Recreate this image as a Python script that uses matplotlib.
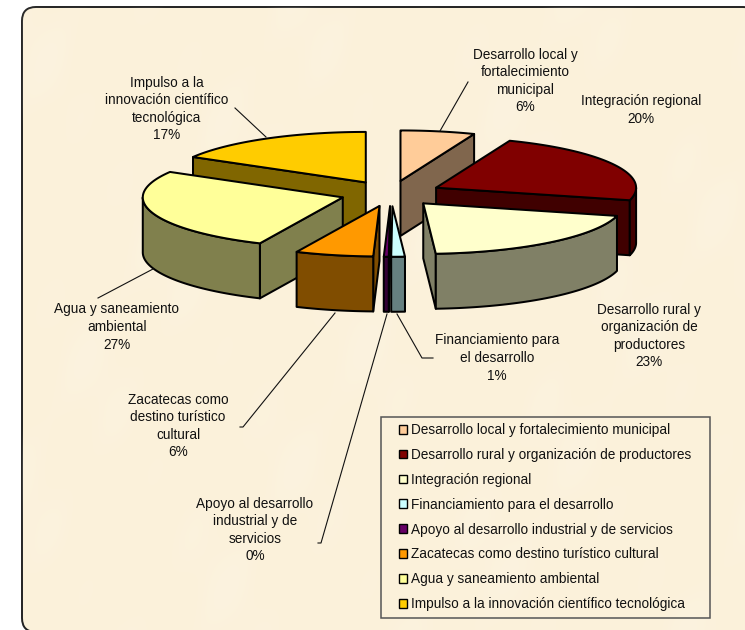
import numpy as np
import matplotlib.pyplot as plt
from matplotlib.colors import to_rgb
from matplotlib.patches import FancyBboxPatch, Patch, Polygon, Rectangle

plt.rcParams['font.family'] = ['Liberation Sans', 'DejaVu Sans']

categories = ["Desarrollo local y fortalecimiento municipal",
              "Desarrollo rural y organización de productores",
              "Integración regional",
              "Financiamiento para el desarrollo",
              "Apoyo al desarrollo industrial y de servicios",
              "Zacatecas como destino turístico cultural",
              "Agua y saneamiento ambiental",
              "Impulso a la innovación científico tecnológica"]
values = [6.0, 23.0, 20.0, 1.1, 0.4, 6.3, 26.6, 16.6]
colors = ["#FFCC99", "#800000", "#FFFFCC", "#CCFFFF",
          "#660066", "#FF9900", "#FFFF99", "#FFCC00"]

# label text, centre of the label, leader line (the labels are as in the original)
labels = [("Desarrollo local y\nfortalecimiento\nmunicipal\n6%", (525, 81), [(440, 131), (468, 82)]),
          ("Integración regional\n20%", (641, 110), None),
          ("Desarrollo rural y\norganización de\nproductores\n23%", (649, 336), None),
          ("Financiamiento para\nel desarrollo\n1%", (497, 358), [(397, 314), (422, 358), (433, 358)]),
          ("Apoyo al desarrollo\nindustrial y de\nservicios\n0%", (255, 530), [(387, 314), (321, 543), (318, 543)]),
          ("Zacatecas como\ndestino turístico\ncultural\n6%", (178, 426), [(335, 313), (243, 427), (240, 427)]),
          ("Agua y saneamiento\nambiental\n27%", (117, 327), [(153, 269), (98, 298)]),
          ("Impulso a la\ninnovación científico\ntecnológica\n17%", (167, 109), [(266, 137), (235, 108)])]

cx, cy = 391, 193.5
rx, ry = 200, 50.5
depth = 55
explode = 0.253


def rim(apex, a):
    return np.column_stack([apex[0] + rx * np.sin(a), apex[1] - ry * np.cos(a)])


fig = plt.figure(figsize=(7.45, 6.3), dpi=100)
ax = fig.add_axes([0, 0, 1, 1])
ax.axis('off')

# parchment panel
panel = FancyBboxPatch((22, 7), 735, 625, boxstyle="round,pad=0,rounding_size=14",
                       fc="#FBF1DA", ec="#222222", lw=1.4, zorder=1)
ax.add_patch(panel)
xx, yy = np.meshgrid(np.arange(0, 745, 3), np.arange(0, 630, 3))
mottle = (np.sin(xx / 41 + yy / 67) + np.sin(xx / 23 - yy / 37 + 1.3)
          + 0.7 * np.sin(xx / 11 + yy / 19 + 0.4))
shade = np.ones(mottle.shape + (4,))
shade[..., 3] = np.clip(mottle, 0, None) * 0.05
tex = ax.imshow(shade, extent=(0, 745, 630, 0), zorder=1.1, interpolation='bilinear')
tex.set_clip_path(panel)
ax.set_xlim(0, 745)
ax.set_ylim(630, 0)

# pie angles from the values, clockwise from 12 o'clock
edges = np.radians(np.concatenate([[0], np.cumsum(values)]) / np.sum(values) * 360)
mids = (edges[:-1] + edges[1:]) / 2

order = sorted(range(len(values)), key=lambda i: -np.cos(mids[i]))
z = 2
for i in order:
    s, e = edges[i], edges[i + 1]
    apex = (cx + explode * rx * np.sin(mids[i]),
            cy - explode * ry * np.cos(mids[i]))
    top = colors[i]
    style = dict(fc=np.array(to_rgb(top)) / 2, ec="black", lw=1.45, joinstyle='round')

    # radial walls facing the viewer
    for a, visible in ((s, np.sin(s) < 0), (e, np.sin(e) > 0)):
        if visible:
            p = rim(apex, np.array([a]))[0]
            quad = [apex, p, (p[0], p[1] + depth), (apex[0], apex[1] + depth)]
            ax.add_patch(Polygon(quad, zorder=z, **style))
            z += 1

    # outer wall, only the front half of the rim
    lo, hi = max(s, np.pi / 2), min(e, 3 * np.pi / 2)
    if hi > lo:
        arc = rim(apex, np.linspace(lo, hi, 60))
        wall = np.vstack([arc, arc[::-1] + [0, depth]])
        ax.add_patch(Polygon(wall, zorder=z, **style))
        z += 1

    face = np.vstack([[apex], rim(apex, np.linspace(s, e, 80))])
    ax.add_patch(Polygon(face, fc=top, ec="black", lw=1.45, joinstyle='round', zorder=z))
    z += 1

for text, (tx, ty), leader in labels:
    ax.text(tx, ty, text, ha='center', va='center', fontsize=9.85, linespacing=1.33,
            color="#111111", zorder=z)
    if leader:
        ax.plot(*zip(*leader), color="#111111", lw=0.8, zorder=z)

ax.add_patch(Rectangle((381, 417), 329, 201, fc="none", ec="#555555", lw=1.1, zorder=z))
handles = [Patch(fc=c, ec="black", lw=1.0, label=n) for c, n in zip(colors, categories)]
leg = ax.legend(handles=handles, loc='upper left', bbox_to_anchor=(399, 423),
                bbox_transform=ax.transData, fontsize=9.85, frameon=False, labelspacing=0.795,
                borderpad=0, handlelength=0.6, handleheight=0.6, handletextpad=0.3,
                borderaxespad=0, labelcolor="#111111")
leg.set_zorder(z)

fig.savefig("out.png", dpi=100)
